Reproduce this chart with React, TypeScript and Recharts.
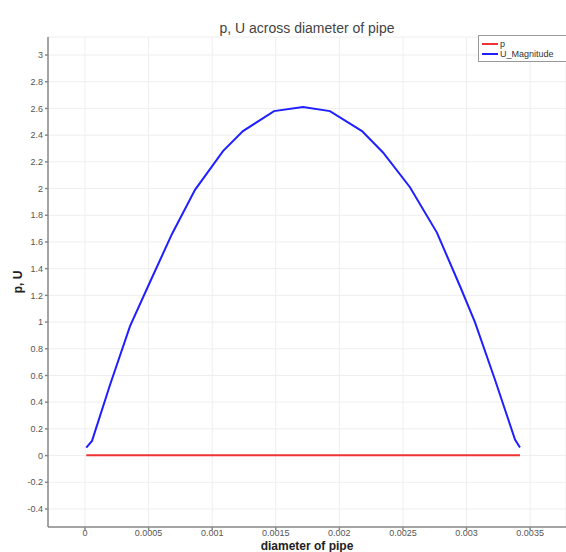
import { LineChart, Line, XAxis, YAxis, CartesianGrid } from 'recharts';

// positions across the pipe (m) and the sampled values
const uPositions = [
  0.00001, 0.000055, 0.000197, 0.000354, 0.000511, 0.000684, 0.000865, 0.001085,
  0.001242, 0.001486, 0.001714, 0.001926, 0.002178, 0.002343, 0.002555, 0.002767,
  0.002948, 0.003066, 0.003223, 0.003381, 0.00342,
];
const uMagnitude = [
  0.06, 0.11, 0.53, 0.97, 1.3, 1.66, 1.99, 2.28, 2.43, 2.58, 2.61, 2.58, 2.43, 2.27,
  2.01, 1.67, 1.27, 1.0, 0.57, 0.12, 0.06,
];
const pPositions = [0.00001, 0.00085, 0.0017, 0.00255, 0.00342];
const pValues = [0.003, 0.003, 0.003, 0.003, 0.003];

const xTicks = [0, 0.0005, 0.001, 0.0015, 0.002, 0.0025, 0.003, 0.0035];
const yTicks = [-0.4, -0.2, 0, 0.2, 0.4, 0.6, 0.8, 1, 1.2, 1.4, 1.6, 1.8, 2, 2.2, 2.4, 2.6, 2.8, 3];

const seriesNames = ['p', 'U_Magnitude'];
const seriesColors = ['#ee3333', '#1f1fff'];

const uData = uPositions.map((x, i) => ({ x, u: uMagnitude[i] }));
const pData = pPositions.map((x, i) => ({ x, p: pValues[i] }));

const FONT = '"Liberation Sans", Arial, sans-serif';
const tickStyle = { fill: '#555', fontSize: 9, fontFamily: FONT };

function LegendBox() {
  return (
    <div
      style={{
        position: 'absolute',
        top: 35,
        left: 478,
        width: 92,
        border: '1px solid #999',
        background: '#fff',
        padding: '3px 0 2px 3px',
        fontFamily: FONT,
        fontSize: 9,
        color: '#333',
        lineHeight: '10px',
      }}
    >
      {seriesNames.map((name, i) => (
        <div key={name} style={{ display: 'flex', alignItems: 'center' }}>
          <span
            style={{
              display: 'inline-block',
              width: 16,
              height: 2,
              background: seriesColors[i],
              marginRight: 2,
            }}
          />
          {name}
        </div>
      ))}
    </div>
  );
}

export default function App() {
  return (
    <div
      style={{
        position: 'absolute',
        left: 0,
        top: 0,
        width: 566,
        height: 552,
        background: '#fff',
        overflow: 'hidden',
      }}
    >
      <LineChart
        width={566}
        height={552}
        margin={{ top: 37, right: 0, left: 0, bottom: 0 }}
      >
        <CartesianGrid stroke="#eeeeee" strokeWidth={1} />
        <XAxis
          type="number"
          dataKey="x"
          domain={[-0.000291, 0.003782]}
          allowDataOverflow
          ticks={xTicks}
          height={25}
          tick={tickStyle}
          tickSize={3}
          tickMargin={0}
          stroke="#888"
          strokeWidth={1.5}
        />
        <YAxis
          type="number"
          domain={[-0.535, 3.135]}
          allowDataOverflow
          ticks={yTicks}
          width={48}
          tick={tickStyle}
          tickSize={3}
          tickMargin={2}
          stroke="#888"
          strokeWidth={1.5}
        />
        <Line
          data={pData}
          dataKey="p"
          name={seriesNames[0]}
          type="linear"
          stroke={seriesColors[0]}
          strokeWidth={2}
          dot={false}
          isAnimationActive={false}
        />
        <Line
          data={uData}
          dataKey="u"
          name={seriesNames[1]}
          type="linear"
          stroke={seriesColors[1]}
          strokeWidth={2}
          dot={false}
          isAnimationActive={false}
        />
      </LineChart>
      <LegendBox />
      <div
        style={{
          position: 'absolute',
          top: 20,
          left: 48,
          width: 518,
          textAlign: 'center',
          fontFamily: FONT,
          fontSize: 14,
          color: '#444',
        }}
      >
        p, U across diameter of pipe
      </div>
      <div
        style={{
          position: 'absolute',
          left: 18,
          top: 282,
          transform: 'translate(-50%, -50%) rotate(-90deg)',
          fontFamily: FONT,
          fontSize: 12,
          fontWeight: 'bold',
          color: '#222',
          whiteSpace: 'nowrap',
        }}
      >
        p, U
      </div>
      <div
        style={{
          position: 'absolute',
          top: 540,
          left: 48,
          width: 518,
          textAlign: 'center',
          fontFamily: FONT,
          fontSize: 12,
          lineHeight: '12px',
          fontWeight: 'bold',
          color: '#222',
        }}
      >
        diameter of pipe
      </div>
    </div>
  );
}
